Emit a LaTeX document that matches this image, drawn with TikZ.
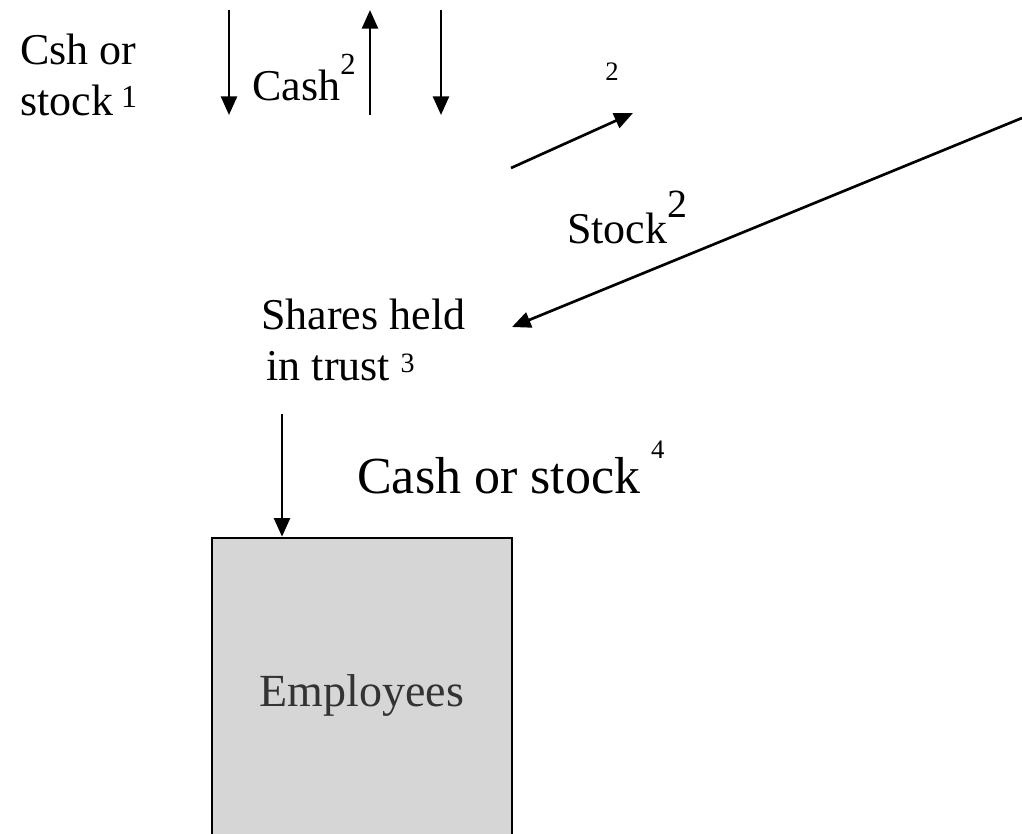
\documentclass[tikz,border=0pt]{standalone}
\usepackage{fontspec}
\setmainfont{Liberation Serif}
\usepackage{xcolor}
\usetikzlibrary{arrows.meta, positioning, calc}

\definecolor{boxgray}{HTML}{D6D6D6}
\definecolor{boxtext}{HTML}{333333}
\newcommand{\supnum}[3]{\raisebox{#2}{\fontsize{#1}{#1}\selectfont #3}}

\begin{document}
\begin{tikzpicture}[x=0.75pt, y=-0.75pt,
		arr/.style={-{Triangle[length=14pt, width=12pt]}, line width=2pt},
		lbl/.style={anchor=base west, inner sep=0pt, align=left, font=\fontsize{33}{38}\selectfont}]
		\useasboundingbox (0,0) rectangle (1022,833);
		
		% Labels (base = last line)
		\node[lbl] (csh) at (20,115) {Csh or\\stock\hspace{6pt}\supnum{24pt}{6pt}{1}};
		\node[lbl] (cashlbl) at (252,100) {Cash\supnum{23pt}{19pt}{2}};
		\node[inner sep=0pt, font=\fontsize{20}{20}\selectfont] (two) at (612,72) {2};
		\node[lbl] (stocklbl) at (567,243) {Stock\supnum{30pt}{19pt}{2}};
		\node[lbl] (trust) at (261,380) {Shares held\\\hspace{4pt}in trust\hspace{8pt}\supnum{21pt}{6pt}{3}};
		\node[lbl, font=\fontsize{39}{39}\selectfont] (cashstock) at (357,493) {Cash or stock\hspace{8pt}\supnum{20pt}{26pt}{4}};
		
		% Employees box (runs off the bottom edge)
		\node[draw, line width=1.5pt, fill=boxgray, text=boxtext, minimum width=225pt, minimum height=236pt,
		font=\fontsize{34.5}{34.5}\selectfont] (employees) at (362,695) {Employees};
		
		% Arrow ends
		\coordinate (a1) at (229,10);   \coordinate (b1) at (229,115);
		\coordinate (a2) at (370,115);  \coordinate (b2) at (370,10);
		\coordinate (a3) at (441,10);   \coordinate (b3) at (441,115);
		\coordinate (s1) at (511,168);  \coordinate (s2) at (633,113);
		\coordinate (l1) at (1022,118); \coordinate (l2) at (512,327);
		\coordinate (trustout) at (282,414);
		
		% Arrows
		\draw[arr] (a1) -- (b1);
		\draw[arr] (a2) -- (b2);
		\draw[arr] (a3) -- (b3);
		\draw[arr] (s1) -- (s2);
		\draw[arr] (l1) -- (l2);
		\draw[arr] (trustout) -- (employees.north -| trustout);
	\end{tikzpicture}
\end{document}
